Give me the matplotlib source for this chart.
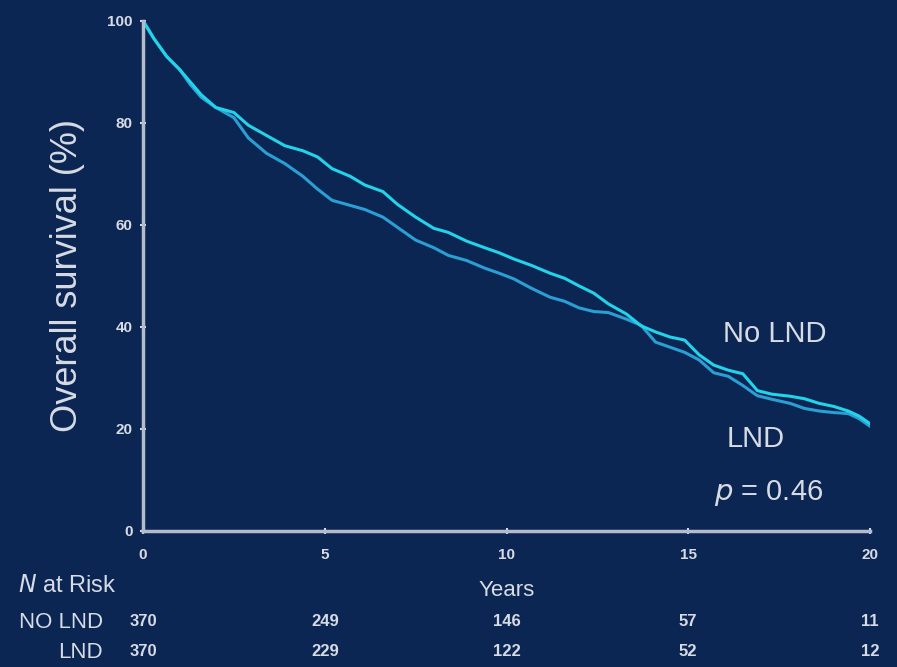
import matplotlib.pyplot as plt

# Kaplan-Meier curves
years = [0, 0.3, 0.65, 1.0, 1.3, 1.6, 2.0, 2.5, 2.9, 3.4, 3.9, 4.4, 4.8, 5.2, 5.7, 6.1,
         6.6, 7.0, 7.5, 8.0, 8.4, 8.9, 9.4, 9.8, 10.2, 10.7, 11.2, 11.6, 12.0, 12.4,
         12.8, 13.3, 13.7, 14.1, 14.5, 14.9, 15.3, 15.7, 16.1, 16.5, 16.9, 17.3, 17.8,
         18.2, 18.6, 19.0, 19.4, 19.7, 20.0]
no_lnd = [100, 96.5, 93, 90.5, 88, 85.5, 83, 82, 79.5, 77.5, 75.5, 74.5, 73.3, 71, 69.5,
          67.8, 66.5, 64, 61.5, 59.3, 58.5, 56.8, 55.5, 54.5, 53.3, 52, 50.5, 49.5, 48,
          46.6, 44.5, 42.5, 40.2, 39, 38, 37.4, 34.5, 32.5, 31.5, 30.8, 27.5, 26.8, 26.4,
          25.9, 25, 24.4, 23.5, 22.5, 21.0]
lnd = [100, 96.5, 93, 90.5, 87.5, 85, 83, 81, 77, 74, 72, 69.5, 67, 64.8, 63.8, 63,
       61.5, 59.5, 57, 55.5, 54, 53, 51.5, 50.5, 49.4, 47.5, 45.8, 45, 43.7, 43, 42.8,
       41.5, 40.3, 37, 36, 35, 33.5, 31, 30.3, 28.5, 26.5, 25.8, 25, 24, 23.5, 23.2, 23,
       22, 20.5]

risk_years = [0, 5, 10, 15, 20]
risk_no_lnd = [370, 249, 146, 57, 11]
risk_lnd = [370, 229, 122, 52, 12]

bg = '#0c2654'
fg = '#d6dbe4'
axis_col = '#b4bccb'

plt.rcParams['font.family'] = ['Liberation Sans', 'DejaVu Sans']

fig = plt.figure(figsize=(8.97, 6.67), dpi=100, facecolor=bg)
ax = fig.add_axes([0.1594, 0.204, 0.8106, 0.765])
ax.set_facecolor(bg)

ax.plot(years, lnd, color='#2a9fd4', lw=2.2)
ax.plot(years, no_lnd, color='#22d3ea', lw=2.2)

ax.set_xlim(0, 20)
ax.set_ylim(0, 100)
ax.set_xticks(risk_years)
ax.set_yticks([0, 20, 40, 60, 80, 100])
for s in ['top', 'right']:
    ax.spines[s].set_visible(False)
for s in ['left', 'bottom']:
    ax.spines[s].set_color(axis_col)
    ax.spines[s].set_linewidth(2.5)
ax.tick_params(colors=fg, labelsize=11, length=5, width=1.5, direction='inout', pad=5)
ax.tick_params(axis='x', pad=10)
for lab in ax.get_xticklabels() + ax.get_yticklabels():
    lab.set_fontweight('bold')

ax.set_ylabel('Overall survival (%)', color=fg, fontsize=26, labelpad=16)

ax.text(15.95, 38.5, 'No LND', color=fg, fontsize=21, ha='left', va='center')
ax.text(16.05, 18.0, 'LND', color=fg, fontsize=21, ha='left', va='center')
ax.text(15.7, 7.5, r'$p$ = 0.46', color=fg, fontsize=21, ha='left', va='center')

# numbers at risk table below the axes
def fx(v):
    return 143 / 897 + v / 20 * (727 / 897)

fig.text(18 / 897, 1 - 586 / 667, r'$N$ at Risk', color=fg, fontsize=17, ha='left', va='center')
fig.text(fx(10), 1 - 591 / 667, 'Years', color=fg, fontsize=16, ha='center', va='center')
fig.text(103 / 897, 1 - 623 / 667, 'NO LND', color=fg, fontsize=16, ha='right', va='center')
fig.text(103 / 897, 1 - 653 / 667, 'LND', color=fg, fontsize=16, ha='right', va='center')
for yr, a, b in zip(risk_years, risk_no_lnd, risk_lnd):
    fig.text(fx(yr), 1 - 621 / 667, str(a), color=fg, fontsize=12, fontweight='bold',
             ha='center', va='center')
    fig.text(fx(yr), 1 - 651 / 667, str(b), color=fg, fontsize=12, fontweight='bold',
             ha='center', va='center')

fig.savefig('out.png', dpi=100, facecolor=bg)
